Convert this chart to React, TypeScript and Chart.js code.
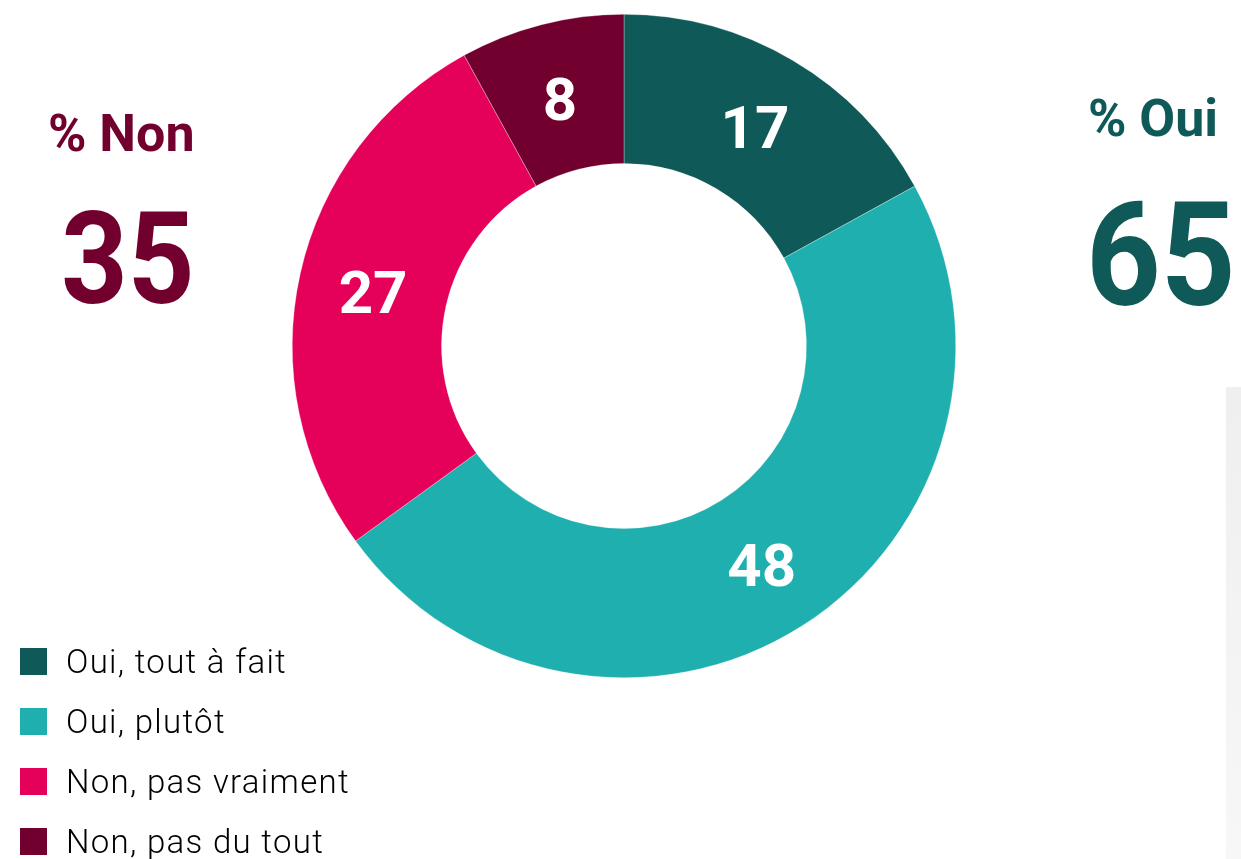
import React, { useEffect, useRef } from "react";
import { Chart, registerables } from "chart.js";

Chart.register(...registerables);

const categories = ["Oui, tout à fait", "Oui, plutôt", "Non, pas vraiment", "Non, pas du tout"];
const values = [17, 48, 27, 8];
const colors = ["#0f5a58", "#1fafae", "#e5005a", "#72002e"];
const summaryLabels = ["% Non", "% Oui"];
const summaryValues = ["35", "65"];

const FONT = "Roboto, 'Noto Sans', sans-serif";

const labelPlugin = {
  id: "sliceLabels",
  afterDatasetsDraw(chart: any) {
    const ctx = chart.ctx;
    const meta = chart.getDatasetMeta(0);
    ctx.save();
    ctx.fillStyle = "#ffffff";
    ctx.font = `700 60px ${FONT}`;
    ctx.textAlign = "center";
    ctx.textBaseline = "alphabetic";
    meta.data.forEach((arc: any, i: number) => {
      const p = arc.tooltipPosition();
      ctx.fillText(String(chart.data.datasets[0].data[i]), p.x, p.y + 0.355 * 60 + 2);
    });
    ctx.restore();
  },
};

export default function App() {
  const ref = useRef<HTMLCanvasElement | null>(null);

  useEffect(() => {
    document.body.style.margin = "0";
    const chart = new Chart(ref.current as HTMLCanvasElement, {
      type: "doughnut",
      data: {
        labels: categories,
        datasets: [
          {
            data: values,
            backgroundColor: colors,
            borderColor: "rgba(255,255,255,0.6)",
            borderWidth: 0.5,
          },
        ],
      },
      options: {
        responsive: false,
        animation: false,
        cutout: "55%",
        layout: { padding: { left: 292, right: 285, top: 14, bottom: 181 } },
        plugins: {
          legend: { display: false },
          tooltip: { enabled: false },
        },
      },
      plugins: [labelPlugin],
    });
    return () => chart.destroy();
  }, []);

  const abs = (s: React.CSSProperties): React.CSSProperties => ({
    position: "absolute",
    lineHeight: 1,
    whiteSpace: "nowrap",
    fontFamily: FONT,
    margin: 0,
    ...s,
  });

  return (
    <div
      style={{
        position: "absolute",
        left: 0,
        top: 0,
        width: 1241,
        height: 859,
        overflow: "hidden",
        background: "#ffffff",
      }}
    >
      <div
        style={{
          position: "absolute",
          left: 1226,
          top: 387,
          width: 15,
          height: 472,
          background: "linear-gradient(#efefef, #f7f7f7)",
        }}
      />
      <canvas ref={ref} width={1241} height={859} style={{ position: "absolute", left: 0, top: 0 }} />
      <div style={abs({ left: 48, top: 108, fontSize: 52, fontWeight: 700, color: colors[3] })}>
        {summaryLabels[0]}
      </div>
      <div
        style={abs({
          left: 61,
          top: 195,
          fontSize: 128,
          fontWeight: 700,
          color: colors[3],
          transform: "scaleX(0.91)",
          transformOrigin: "left top",
        })}
      >
        {summaryValues[0]}
      </div>
      <div style={abs({ left: 1088, top: 93, fontSize: 52, fontWeight: 700, color: colors[0] })}>
        {summaryLabels[1]}
      </div>
      <div
        style={abs({
          left: 1086,
          top: 183,
          fontSize: 145,
          fontWeight: 700,
          color: colors[0],
          transform: "scaleX(0.9)",
          transformOrigin: "left top",
        })}
      >
        {summaryValues[1]}
      </div>
      {categories.map((c, i) => (
        <React.Fragment key={c}>
          <div
            style={{
              position: "absolute",
              left: 20,
              top: 648 + i * 60,
              width: 27,
              height: 27,
              background: colors[i],
            }}
          />
          <div
            style={abs({
              left: 66,
              top: 645 + i * 60,
              fontSize: 33,
              fontWeight: 300,
              color: "#000000",
              letterSpacing: 1.3,
            })}
          >
            {c}
          </div>
        </React.Fragment>
      ))}
    </div>
  );
}
